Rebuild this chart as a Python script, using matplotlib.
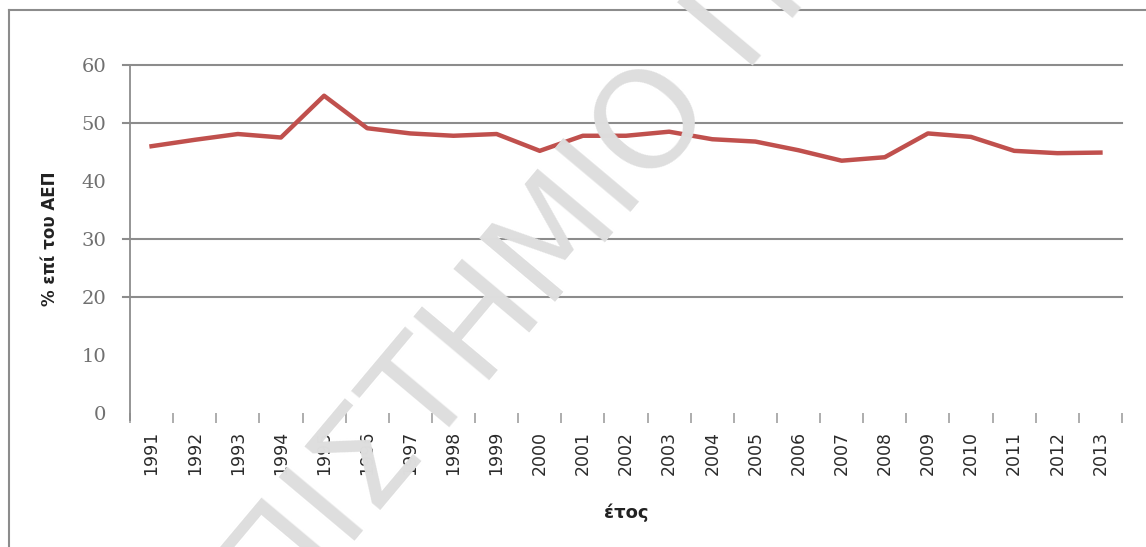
import matplotlib
matplotlib.use("Agg")
import matplotlib.pyplot as plt
from matplotlib.lines import Line2D

years = ["1991", "1992", "1993", "1994", "1995", "1996", "1997", "1998", "1999", "2000",
         "2001", "2002", "2003", "2004", "2005", "2006", "2007", "2008", "2009", "2010",
         "2011", "2012", "2013"]
values = [46.0, 47.1, 48.1, 47.5, 54.7, 49.1, 48.2, 47.8, 48.1, 45.2,
          47.8, 47.8, 48.5, 47.2, 46.8, 45.3, 43.5, 44.1, 48.2, 47.6,
          45.2, 44.8, 44.9]
yticks = [0, 10, 20, 30, 40, 50, 60]
visible_grid = [20, 30, 50, 60]

W, H = 1146, 547
fig = plt.figure(figsize=(W / 100, H / 100), dpi=100)
fig.patch.set_facecolor("white")

# chart border (left and top)
fig.add_artist(Line2D([9 / W, 9 / W], [0, 1 - 10 / H], color="#8c8c8c", lw=1.5))
fig.add_artist(Line2D([9 / W, 1], [1 - 10 / H, 1 - 10 / H], color="#8c8c8c", lw=1.5))

ax = fig.add_axes([130 / W, 1 - 413 / H, 992 / W, 348 / H])
x = list(range(len(years)))

ax.set_xlim(-0.5, len(years) - 0.5)
ax.set_ylim(0, 60)

for s in ["top", "right", "bottom"]:
    ax.spines[s].set_visible(False)
ax.spines["left"].set_color("#8c8c8c")
ax.spines["left"].set_linewidth(1.3)
ax.spines["left"].set_bounds(-1.2, 60)

trans = ax.get_yaxis_transform()
for g in visible_grid:
    ax.plot([-7 / 992, 1], [g, g], transform=trans, color="#8c8c8c", lw=1.5,
            clip_on=False, zorder=1)

# watermark
fig.text(0.493, 0.575, "ΠΑΝΕΠΙΣΤΗΜΙΟ ΠΕΙΡΑΙΩΣ", fontsize=98, color="#dedede",
         rotation=50, ha="center", va="center", zorder=2,
         fontfamily="DejaVu Sans", fontweight="normal")

ax.plot(x, values, color="#C0504D", lw=3.2, zorder=3, solid_joinstyle="round")

ax.set_yticks(yticks)
ax.set_yticklabels([str(v) for v in yticks], fontsize=14, color="#707070",
                   fontfamily="DejaVu Serif")
ax.tick_params(axis="y", length=0, pad=17)

ax.set_xticks(x)
ax.set_xticklabels(years, rotation=90, fontsize=12.5, color="#2b2b2b")
ax.tick_params(axis="x", which="major", length=0, pad=13)
ax.set_xticks([i - 0.5 for i in range(len(years) + 1)], minor=True)
ax.tick_params(axis="x", which="minor", length=7, width=1.2, color="#a0a0a0",
               direction="out", pad=0)
ax.xaxis.set_ticks_position("bottom")

ax.set_xlabel("έτος", fontsize=13, fontweight="bold", color="#222222", labelpad=20)
ax.set_ylabel("% επί του ΑΕΠ", fontsize=12, fontweight="bold", color="#222222",
              labelpad=16)
ax.patch.set_alpha(0)

fig.savefig("out.png", dpi=100, facecolor="white")
